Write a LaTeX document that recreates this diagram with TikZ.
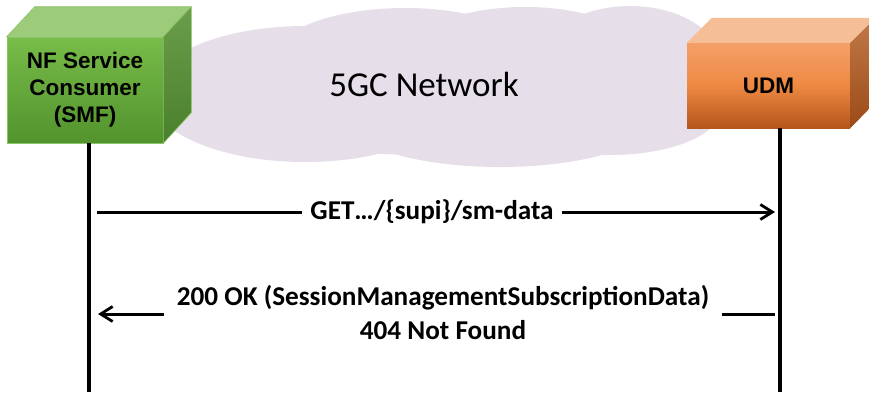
\documentclass[tikz,border=0pt]{standalone}
\usepackage{fontspec}
\setmainfont{Carlito}
\newfontfamily\arialfont{Liberation Sans}
\usetikzlibrary{arrows.meta,calc}
\definecolor{cloudc}{HTML}{E6DEE8}
\definecolor{gtop}{HTML}{9CCB79}
\definecolor{gfrontA}{HTML}{78BC49}
\definecolor{gfrontB}{HTML}{52932D}
\definecolor{gsideA}{HTML}{6A9E4A}
\definecolor{gsideB}{HTML}{4A7F2C}
\definecolor{gedge}{HTML}{8CC46A}
\definecolor{otop}{HTML}{F6BE96}
\definecolor{ofrontA}{HTML}{F4A069}
\definecolor{ofrontM}{HTML}{EE8942}
\definecolor{ofrontB}{HTML}{B5551A}
\definecolor{osideA}{HTML}{C27A48}
\definecolor{osideB}{HTML}{9A4A17}
\tikzset{
  nfbox/.style={inner sep=0pt, align=center, font=\arialfont\bfseries\fontsize{22.5}{27}\selectfont},
  lifeline/.style={line width=3.3pt, black},
  msg/.style={line width=3pt, black},
  msgtip/.style={-{Straight Barb[length=12pt,width=15pt,line width=2.8pt]}},
  msglabel/.style={font=\bfseries\fontsize{27.2}{34}\selectfont, align=center, inner ysep=0pt},
  cloudtext/.style={font=\fontsize{35}{40}\selectfont}
}
\begin{document}
\begin{tikzpicture}[x=1pt,y=-1pt]
\useasboundingbox (0,0) rectangle (869,392);
% cloud
\fill[cloudc] (305,94) ellipse [x radius=155, y radius=68];
\fill[cloudc] (405,62) ellipse [x radius=135, y radius=54];
\fill[cloudc] (525,58) ellipse [x radius=120, y radius=51];
\fill[cloudc] (630,62) ellipse [x radius=90, y radius=56];
\fill[cloudc] (500,122) ellipse [x radius=150, y radius=45];
\fill[cloudc] (610,110) ellipse [x radius=110, y radius=45];
\fill[cloudc] (430,95) ellipse [x radius=250, y radius=60];
\node[cloudtext] (net) at (424,84) {5GC Network};
% SMF box
\node[nfbox, minimum width=156pt, minimum height=106pt,
      top color=gfrontA, bottom color=gfrontB, draw=gedge, line width=0.6pt] (smf) at (85,90)
      {NF Service\\Consumer\\(SMF)};
\filldraw[fill=gtop, draw=gedge, line width=0.6pt] (smf.north west) -- ++(28,-30) -- ++(156,0) -- (smf.north east) -- cycle;
\shadedraw[top color=gsideA, bottom color=gsideB, draw=gedge, line width=0.6pt] (smf.north east) -- ++(28,-30) -- ++(0,106) -- (smf.south east) -- cycle;
% UDM box
\node[nfbox, minimum width=163pt, minimum height=85pt,
      top color=ofrontA, bottom color=ofrontB, middle color=ofrontM] (udm) at (768.5,85.5) {UDM};
\fill[otop] (udm.north west) -- ++(25,-25) -- ++(163,0) -- (udm.north east) -- cycle;
\shade[top color=osideA, bottom color=osideB] (udm.north east) -- ++(25,-25) -- ++(0,85) -- (udm.south east) -- cycle;
% lifelines
\coordinate (smfend) at (89,392);
\coordinate (udmend) at (780,392);
\draw[lifeline] (smf.south -| smfend) -- (smfend);
\draw[lifeline] (udm.south -| udmend) -- (udmend);
% message 1
\coordinate (m1s) at (97,212);
\coordinate (m1e) at (775,212);
\node[msglabel, inner xsep=8pt] (lab1) at (432,212) {GET…/\{supi\}/sm-data};
\draw[msg] (m1s) -- (lab1.west);
\draw[msg, msgtip] (lab1.east) -- (m1e);
% message 2
\coordinate (m2s) at (775,314);
\coordinate (m2e) at (98,314);
\node[msglabel, inner xsep=13pt] (lab2) at (443,312) {200 OK (SessionManagementSubscriptionData)\\404 Not Found};
\draw[msg] (m2s) -- (lab2.east |- m2s);
\draw[msg, msgtip] (lab2.west |- m2e) -- (m2e);
\end{tikzpicture}
\end{document}
